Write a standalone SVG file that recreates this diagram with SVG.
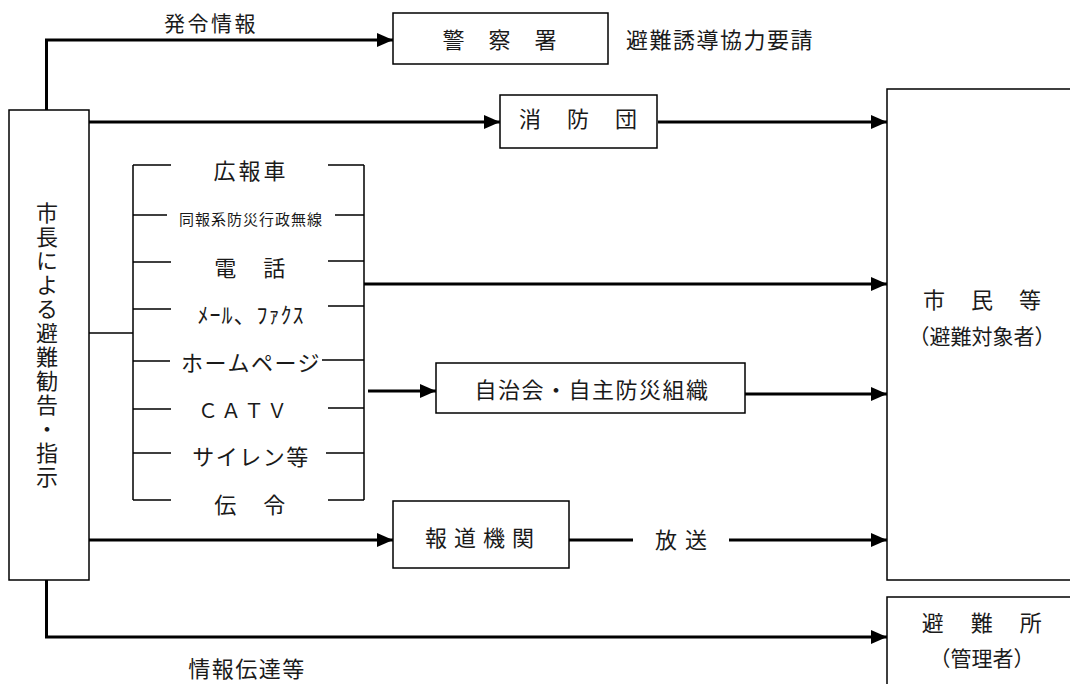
<svg xmlns="http://www.w3.org/2000/svg" width="1070" height="684" viewBox="0 0 1070 684">
<style>
text{font-family:"Noto Sans CJK JP","Noto Sans CJK SC",sans-serif;font-size:22px;fill:#1a1a1a;text-anchor:middle;dominant-baseline:central}
.box{fill:#fff;stroke:#000;stroke-width:1.5}
.c{fill:none;stroke:#000;stroke-width:3}
.t{fill:none;stroke:#000;stroke-width:1.5}
</style>
<defs>
<marker id="ah" markerUnits="userSpaceOnUse" markerWidth="16" markerHeight="14" refX="16" refY="7" orient="auto">
<path d="M0,0 L16,7 L0,14 z" fill="#000"/>
</marker>
</defs>
<rect width="1070" height="684" fill="#fff"/>

<g id="connectors">
<path class="c" d="M46.5,110 V40 H393" marker-end="url(#ah)"/>
<path class="c" d="M89,122 H500" marker-end="url(#ah)"/>
<path class="c" d="M658,122 H887" marker-end="url(#ah)"/>
<path class="t" d="M89,333 H133"/>
<path class="c" d="M364,284 H887" marker-end="url(#ah)"/>
<path class="c" d="M368,391 H436" marker-end="url(#ah)"/>
<path class="c" d="M745,394 H887" marker-end="url(#ah)"/>
<path class="c" d="M89,540 H393" marker-end="url(#ah)"/>
<path class="c" d="M569,540 H633"/>
<path class="c" d="M729,540 H887" marker-end="url(#ah)"/>
<path class="c" d="M46.5,580 V637 H887" marker-end="url(#ah)"/>
</g>

<g id="bracket">
<path class="t" d="M133,165 V500 M364,165 V500"/>
<path class="t" d="M133,165 H171 M328,165 H364"/>
<path class="t" d="M133,215 H167 M335,215 H364"/>
<path class="t" d="M133,262 H171 M328,261 H364"/>
<path class="t" d="M133,309 H171 M328,306 H364"/>
<path class="t" d="M133,361 H170 M322,360 H364"/>
<path class="t" d="M133,409 H171 M328,408 H364"/>
<path class="t" d="M133,453 H171 M326,453 H364"/>
<path class="t" d="M133,500 H171 M328,500 H364"/>
<text x="251" y="169" style="letter-spacing:3px">広報車</text>
<text x="251" y="218" style="font-size:15px;letter-spacing:1px">同報系防災行政無線</text>
<text x="251" y="266" style="letter-spacing:2.5px">電　話</text>
<text x="251" y="313" style="letter-spacing:1px">ﾒｰﾙ、ﾌｧｸｽ</text>
<text x="251" y="361" style="letter-spacing:1.5px">ホームページ</text>
<text x="244" y="409" style="font-size:20px;letter-spacing:3px">ＣＡＴＶ</text>
<text x="251" y="455" style="letter-spacing:1.5px">サイレン等</text>
<text x="251" y="503" style="letter-spacing:2.5px">伝　令</text>
</g>

<g id="mayor">
<rect class="box" x="9" y="110" width="80" height="470"/>
<text x="47" y="346" writing-mode="vertical-rl" style="letter-spacing:2px">市長による避難勧告・指示</text>
</g>

<g id="police">
<rect class="box" x="393" y="13" width="215" height="51"/>
<text x="500" y="38" style="letter-spacing:1px">警　察　署</text>
</g>

<g id="fire">
<rect class="box" x="500" y="95" width="157" height="53"/>
<text x="579" y="117" style="letter-spacing:2px">消　防　団</text>
</g>

<g id="community">
<rect class="box" x="436" y="363" width="309" height="50"/>
<text x="592" y="388" style="letter-spacing:1.5px">自治会・自主防災組織</text>
</g>

<g id="media">
<rect class="box" x="393" y="501" width="176" height="67"/>
<text x="483" y="536" style="letter-spacing:7px">報道機関</text>
</g>

<g id="citizens">
<rect class="box" x="887" y="89" width="200" height="491"/>
<text x="983" y="298" style="letter-spacing:2px">市　民　等</text>
<text x="982" y="335" style="font-size:21px">（避難対象者）</text>
</g>

<g id="shelter">
<rect class="box" x="887" y="597" width="200" height="110"/>
<text x="983" y="621" style="letter-spacing:2.5px">避　難　所</text>
<text x="982" y="657" style="font-size:21px">（管理者）</text>
</g>

<g id="labels">
<text x="211" y="22" style="font-size:21px;letter-spacing:2.5px">発令情報</text>
<text x="720" y="38" style="letter-spacing:1.5px">避難誘導協力要請</text>
<text x="685" y="538" style="letter-spacing:8px">放送</text>
<text x="247" y="667" style="letter-spacing:1.5px">情報伝達等</text>
</g>
</svg>
